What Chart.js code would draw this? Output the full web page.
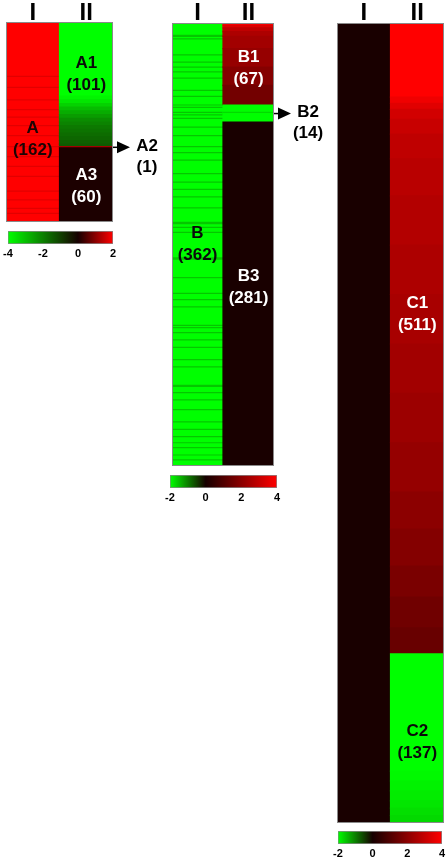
<!DOCTYPE html>
<html><head><meta charset="utf-8">
<script src="https://cdn.jsdelivr.net/npm/chart.js@4.4.1/dist/chart.umd.min.js"></script>
<style>
html,body{margin:0;padding:0;background:#fff;}
#wrap{position:relative;width:448px;height:864px;overflow:hidden;background:#fff;}
canvas{position:absolute;}
</style></head><body><div id="wrap">
<canvas id="heatA" width="170" height="224" style="left:0;top:0"></canvas>
<canvas id="barA" width="125" height="41" style="left:0;top:228px"></canvas>
<canvas id="heatB" width="190" height="470" style="left:160px;top:0"></canvas>
<canvas id="barB" width="125" height="41" style="left:160px;top:472px"></canvas>
<canvas id="heatC" width="118" height="826" style="left:330px;top:0"></canvas>
<canvas id="barC" width="118" height="36" style="left:330px;top:828px"></canvas>
</div>
<script>
// ---------- data ----------
const columns = ['I', 'II'];

// Panel A (colour scale -4 .. 2)
const aRange = [-4, 2];
const aTicks = [-4, -2, 0, 2];
const aTotal = 162;
const aIBase = 2;
const aIStripeValue = 1.75;
const aIStripeRows = [44, 53, 63, 71, 77, 84, 92, 101, 109, 117, 125, 137, 144, 151, 155];
const aIICounts = [60, 3, 3, 3, 3, 3, 3, 3, 3, 3, 3, 3, 3, 3, 2, 1, 60];
const aIIValues = [-4, -3.85, -3.6, -3.3, -2.95, -2.7, -2.45, -2.2, -2.05, -1.9, -1.8, -1.7, -1.6, -1.5, -1.42, 1.2, 0.05];
const aGroupNames = ['A', 'A1', 'A2', 'A3'];
const aGroupCounts = [162, 101, 1, 60];

// Panel B (colour scale -2 .. 4)
const bRange = [-2, 4];
const bTicks = [-2, 0, 2, 4];
const bTotal = 362;
const bIBase = -2;
const bIStripeValue = -1.55;
const bIStripeRows = [10, 11, 13, 26, 32, 36, 40, 45, 55, 60, 67, 69, 73, 75, 78, 85, 92, 101, 106, 112, 123, 130, 136, 142, 151, 163, 164, 167, 171, 192, 193, 208, 221, 226, 232, 247, 249, 253, 259, 265, 275, 281, 296, 297, 302, 308, 316, 326, 332, 338, 343, 347, 353, 357];
const bIICounts = [2, 2, 3, 4, 10, 15, 15, 16, 6, 1, 7, 281];
const bIIValues = [4, 3.4, 2.9, 2.6, 2.4, 2.2, 1.9, 1.6, -2, -1.7, -2, 0.05];
const bGroupNames = ['B', 'B1', 'B2', 'B3'];
const bGroupCounts = [362, 67, 14, 281];

// Panel C (colour scale -2 .. 4)
const cRange = [-2, 4];
const cTicks = [-2, 0, 2, 4];
const cTotal = 648;
const cICounts = [648];
const cIValues = [0.05];
const cIICounts = [60, 5, 5, 8, 12, 20, 30, 40, 40, 40, 40, 40, 40, 30, 30, 25, 25, 21, 95, 8, 8, 8, 6, 6, 6];
const cIIValues = [4, 3.74, 3.48, 3.23, 3.06, 2.9, 2.8, 2.7, 2.6, 2.5, 2.4, 2.3, 2.18, 2.03, 1.88, 1.72, 1.55, 1.4, -2, -1.95, -1.9, -1.85, -1.8, -1.75, -1.7];
const cGroupNames = ['C1', 'C2'];
const cGroupCounts = [511, 137];

// ---------- styles ----------
const FONT = "'Liberation Sans', Arial, Helvetica, sans-serif";
Chart.defaults.font.family = FONT;

// ---------- helpers ----------
function colorFor(v, min, max) {
  if (v >= 0) {
    const t = Math.min(1, v / max);
    return 'rgb(' + Math.round(22 + 233 * t) + ',0,0)';
  }
  const t = Math.min(1, v / min);
  return 'rgb(' + Math.round(22 * (1 - t)) + ',' + Math.round(255 * t) + ',0)';
}
function runsFromStripes(total, base, rows, stripe) {
  const set = new Set(rows);
  const counts = [], values = [];
  let r = 0;
  while (r < total) {
    const v = set.has(r) ? stripe : base;
    let n = 0;
    while (r < total && (set.has(r) ? stripe : base) === v) { r++; n++; }
    counts.push(n); values.push(v);
  }
  return { counts, values };
}
function cells(col, counts, values) {
  const out = []; let s = 0;
  counts.forEach((n, i) => { out.push({ x: col, y: [s, s + n], v: values[i] }); s += n; });
  return out;
}

function heatmap(id, cfg) {
  const labelPlugin = {
    id: 'labels_' + id,
    afterDatasetsDraw(chart) {
      const { ctx, chartArea: a, scales: { x, y } } = chart;
      ctx.save();
      ctx.strokeStyle = '#8a8a8a'; ctx.lineWidth = 1;
      ctx.strokeRect(a.left + 0.5, a.top + 0.5, a.width - 1, a.height - 1);
      ctx.font = 'bold 17px ' + FONT;
      ctx.textAlign = 'center'; ctx.textBaseline = 'middle';
      cfg.labels.forEach(l => {
        const px = x.getPixelForValue(l.col), py = y.getPixelForValue(l.row);
        ctx.fillStyle = l.color;
        ctx.fillText(l.name, px, py - 11);
        ctx.fillText('(' + l.count + ')', px, py + 11);
      });
      cfg.callouts.forEach(c => {
        const py = y.getPixelForValue(c.row);
        const x0 = a.right;
        ctx.strokeStyle = '#000'; ctx.fillStyle = '#000'; ctx.lineWidth = 1.5;
        ctx.beginPath(); ctx.moveTo(x0, py); ctx.lineTo(x0 + 6, py); ctx.stroke();
        ctx.beginPath(); ctx.moveTo(x0 + 4, py - 6); ctx.lineTo(x0 + 17, py); ctx.lineTo(x0 + 4, py + 6); ctx.closePath(); ctx.fill();
        ctx.fillText(c.name, x0 + 34, py - 1);
        ctx.fillText('(' + c.count + ')', x0 + 34, py + 20);
      });
      ctx.restore();
    }
  };
  return new Chart(document.getElementById(id), {
    type: 'bar',
    data: {
      labels: columns,
      datasets: [{
        data: cfg.cells,
        backgroundColor: c => colorFor(c.raw.v, cfg.range[0], cfg.range[1]),
        borderWidth: 0,
        inflateAmount: 0.6,
        barPercentage: 1,
        categoryPercentage: 1,
        grouped: false
      }]
    },
    options: {
      responsive: false, animation: false, events: [],
      layout: { padding: cfg.pad },
      plugins: { legend: { display: false }, tooltip: { enabled: false } },
      scales: {
        x: {
          type: 'category', position: 'top',
          grid: { display: false, drawTicks: false }, border: { display: false },
          ticks: { font: { size: 24, weight: 'bold', lineHeight: 1 }, color: '#000', padding: cfg.headPad, maxRotation: 0, autoSkip: false },
          afterFit: s => { s.height = cfg.head; }
        },
        y: { type: 'linear', reverse: true, min: 0, max: cfg.total, display: false }
      }
    },
    plugins: [labelPlugin]
  });
}

function colorbar(id, range, ticks, pad, axisH) {
  return new Chart(document.getElementById(id), {
    type: 'bar',
    data: {
      labels: [''],
      datasets: [{
        data: [[range[0], range[1]]],
        backgroundColor: c => {
          const a = c.chart.chartArea;
          if (!a) return '#000';
          const g = c.chart.ctx.createLinearGradient(a.left, 0, a.right, 0);
          for (let i = 0; i <= 30; i++) {
            const v = range[0] + (range[1] - range[0]) * i / 30;
            g.addColorStop(i / 30, colorFor(v, range[0], range[1]));
          }
          return g;
        },
        borderColor: '#8a8a8a', borderWidth: 1, borderSkipped: false,
        barPercentage: 1, categoryPercentage: 1
      }]
    },
    options: {
      indexAxis: 'y',
      responsive: false, animation: false, events: [],
      layout: { padding: pad },
      plugins: { legend: { display: false }, tooltip: { enabled: false } },
      scales: {
        x: {
          type: 'linear', min: range[0], max: range[1],
          grid: { display: false, drawTicks: false }, border: { display: false },
          afterBuildTicks: s => { s.ticks = ticks.map(v => ({ value: v })); },
          ticks: { font: { size: 11, weight: 'bold' }, color: '#000', padding: 3 },
          afterFit: s => { s.height = axisH; }
        },
        y: { display: false }
      }
    }
  });
}

// ---------- build ----------
const aI = runsFromStripes(aTotal, aIBase, aIStripeRows, aIStripeValue);
heatmap('heatA', {
  range: aRange, total: aTotal, head: 22, headPad: -3,
  pad: { left: 6, right: 57, top: 0, bottom: 2 },
  cells: cells('I', aI.counts, aI.values).concat(cells('II', aIICounts, aIIValues)),
  labels: [
    { name: aGroupNames[0], count: aGroupCounts[0], col: 0, row: 95, color: '#1c0404' },
    { name: aGroupNames[1], count: aGroupCounts[1], col: 1, row: 42, color: '#0a0a0a' },
    { name: aGroupNames[3], count: aGroupCounts[3], col: 1, row: 133, color: '#ffffff' }
  ],
  callouts: [{ name: aGroupNames[2], count: aGroupCounts[2], row: aGroupCounts[1] + aGroupCounts[2] / 2 }]
});
colorbar('barA', aRange, aTicks, { left: 6, right: 12, top: 3, bottom: 0 }, 25);

const bI = runsFromStripes(bTotal, bIBase, bIStripeRows, bIStripeValue);
heatmap('heatB', {
  range: bRange, total: bTotal, head: 23, headPad: -2,
  pad: { left: 12, right: 76, top: 0, bottom: 4 },
  cells: cells('I', bI.counts, bI.values).concat(cells('II', bIICounts, bIIValues)),
  labels: [
    { name: bGroupNames[0], count: bGroupCounts[0], col: 0, row: 181, color: '#0a0a0a' },
    { name: bGroupNames[1], count: bGroupCounts[1], col: 1, row: 37, color: '#ffffff' },
    { name: bGroupNames[3], count: bGroupCounts[3], col: 1, row: 216, color: '#ffffff' }
  ],
  callouts: [{ name: bGroupNames[2], count: bGroupCounts[2], row: bGroupCounts[1] + bGroupCounts[2] / 2 }]
});
colorbar('barB', bRange, bTicks, { left: 10, right: 8, top: 3, bottom: 0 }, 25);

heatmap('heatC', {
  range: cRange, total: cTotal, head: 23, headPad: -2,
  pad: { left: 7, right: 4, top: 0, bottom: 3 },
  cells: cells('I', cICounts, cIValues).concat(cells('II', cIICounts, cIIValues)),
  labels: [
    { name: cGroupNames[0], count: cGroupCounts[0], col: 1, row: 236, color: '#ffffff' },
    { name: cGroupNames[1], count: cGroupCounts[1], col: 1, row: 583, color: '#0a0a0a' }
  ],
  callouts: []
});
colorbar('barC', cRange, cTicks, { left: 7, right: 4, top: 3, bottom: 0 }, 20);
</script></body></html>
